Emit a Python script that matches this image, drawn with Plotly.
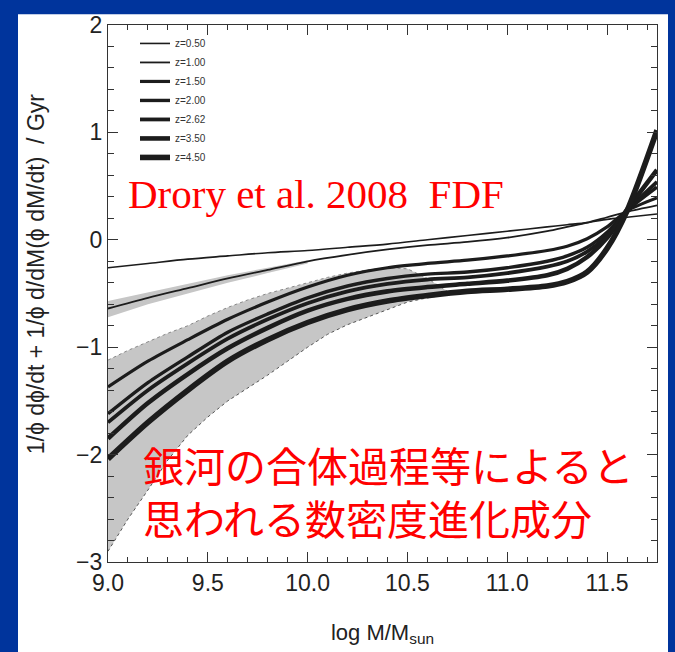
import plotly.graph_objects as go

# ---------------- data ----------------
log_mass = [9.0, 9.2, 9.4, 9.6, 9.8, 10.0, 10.2, 10.4, 10.6, 10.8, 11.0, 11.2, 11.3, 11.4, 11.5, 11.6, 11.75]

z_labels = ["z=0.50", "z=1.00", "z=1.50", "z=2.00", "z=2.62", "z=3.50", "z=4.50"]

fdf_z050 = [-0.26, -0.22, -0.18, -0.15, -0.12, -0.10, -0.07, -0.04, 0.00, 0.04, 0.08, 0.12, 0.14, 0.16, 0.19, 0.21, 0.24]
fdf_z100 = [-0.64, -0.54, -0.45, -0.36, -0.28, -0.20, -0.14, -0.09, -0.05, -0.02, 0.02, 0.08, 0.12, 0.16, 0.21, 0.26, 0.32]
fdf_z150 = [-1.37, -1.13, -0.93, -0.74, -0.58, -0.44, -0.33, -0.26, -0.22, -0.19, -0.15, -0.10, -0.06, 0.01, 0.12, 0.27, 0.39]
fdf_z200 = [-1.62, -1.33, -1.09, -0.86, -0.69, -0.54, -0.43, -0.36, -0.32, -0.30, -0.26, -0.20, -0.15, -0.07, 0.07, 0.27, 0.49]
fdf_z262 = [-1.70, -1.40, -1.15, -0.92, -0.74, -0.59, -0.48, -0.41, -0.37, -0.35, -0.31, -0.25, -0.20, -0.11, 0.04, 0.27, 0.54]
fdf_z350 = [-1.85, -1.52, -1.25, -1.01, -0.82, -0.66, -0.55, -0.48, -0.44, -0.41, -0.38, -0.33, -0.27, -0.16, 0.02, 0.28, 0.65]
fdf_z450 = [-2.04, -1.70, -1.40, -1.13, -0.93, -0.77, -0.65, -0.57, -0.52, -0.48, -0.46, -0.43, -0.39, -0.30, -0.08, 0.27, 1.02]

series = [fdf_z050, fdf_z100, fdf_z150, fdf_z200, fdf_z262, fdf_z350, fdf_z450]

# uncertainty band of the high-z curves
band_x = [9.0, 9.1, 9.2, 9.3, 9.4, 9.5, 9.6, 9.7, 9.8, 9.9, 10.0, 10.1, 10.2, 10.3, 10.4, 10.5, 10.6, 10.7]
band_upper = [-1.12, -1.03, -0.95, -0.87, -0.80, -0.71, -0.63, -0.56, -0.50, -0.45, -0.40, -0.35, -0.31, -0.28, -0.26, -0.27, -0.36, -0.48]
band_lower = [-2.90, -2.60, -2.33, -2.05, -1.82, -1.65, -1.50, -1.38, -1.26, -1.13, -1.00, -0.88, -0.79, -0.72, -0.65, -0.58, -0.54, -0.51]

# narrow band around the z=1.00 curve
band1_x = [9.0, 9.2, 9.4, 9.6, 9.8, 10.0]
band1_upper = [-0.57, -0.49, -0.41, -0.33, -0.26, -0.19]
band1_lower = [-0.72, -0.60, -0.50, -0.40, -0.31, -0.22]

# ---------------- styles ----------------
line_widths = [1.6, 1.8, 3.2, 3.4, 3.8, 4.6, 5.6]
INK = "#1c1c1c"
BAND = "#c6c6c6"
BLUE = "#00349c"

W, H = 675, 652
ML, MR, MT, MB = 108, 18, 18, 89
PW, PH = W - ML - MR, H - MT - MB

def px_x(p):
    return (p - ML) / PW

def px_y(p):
    return (H - MB - p) / PH

fig = go.Figure()

# big gray band
fig.add_trace(go.Scatter(x=band_x, y=band_upper, mode="lines", line=dict(width=0, color=BAND),
                         showlegend=False, hoverinfo="skip"))
fig.add_trace(go.Scatter(x=band_x, y=band_lower, mode="lines", line=dict(width=0, color=BAND),
                         fill="tonexty", fillcolor=BAND, showlegend=False, hoverinfo="skip"))
fig.add_trace(go.Scatter(x=band_x, y=band_lower, mode="lines",
                         line=dict(width=1, color="#555555", dash="dot"),
                         showlegend=False, hoverinfo="skip"))
fig.add_trace(go.Scatter(x=band_x, y=band_upper, mode="lines",
                         line=dict(width=1, color="#888888", dash="dot"),
                         showlegend=False, hoverinfo="skip"))
# small band around z=1.00
fig.add_trace(go.Scatter(x=band1_x, y=band1_upper, mode="lines", line=dict(width=0, color=BAND),
                         showlegend=False, hoverinfo="skip"))
fig.add_trace(go.Scatter(x=band1_x, y=band1_lower, mode="lines", line=dict(width=0, color=BAND),
                         fill="tonexty", fillcolor=BAND, showlegend=False, hoverinfo="skip"))

# zero reference line
fig.add_hline(y=0, line=dict(color="#bdbdbd", width=1.5, dash="dot"), layer="below")

for lab, ys, lw in zip(z_labels, series, line_widths):
    fig.add_trace(go.Scatter(x=log_mass, y=ys, mode="lines", name=lab,
                             line=dict(color=INK, width=lw, shape="spline", smoothing=0.8)))

# white slide panel behind the chart
fig.add_shape(type="rect", xref="paper", yref="paper",
              x0=px_x(18), x1=px_x(668), y0=px_y(660), y1=px_y(7),
              fillcolor="white", line=dict(width=0), layer="below")

FONT = "Liberation Sans, Arial, sans-serif"
axis_common = dict(showline=True, linecolor="#333333", linewidth=1.2, mirror="allticks",
                   ticks="inside", tickcolor="#333333", showgrid=False, zeroline=False,
                   tickfont=dict(family=FONT, size=23, color="#222222"))

fig.update_xaxes(range=[9.0, 11.75], tickmode="linear", tick0=9.0, dtick=0.5, tickformat=".1f",
                 ticklen=10,
                 minor=dict(tickmode="linear", tick0=9.0, dtick=0.1, ticklen=5, ticks="inside",
                            tickcolor="#333333", showgrid=False),
                 title=dict(text="log M/M<sub>sun</sub>", standoff=29,
                            font=dict(family=FONT, size=22, color="#222222")),
                 **axis_common)
fig.update_yaxes(range=[-3, 2], tickmode="linear", tick0=-3, dtick=1, ticklen=10,
                 minor=dict(tickmode="linear", tick0=-3, dtick=0.2, ticklen=6, ticks="inside",
                            tickcolor="#333333", showgrid=False),
                 **axis_common)

annotations = [
    dict(text="1/ϕ dϕ/dt + 1/ϕ d/dM(ϕ dM/dt)  / Gyr", textangle=-90,
         xref="paper", yref="paper", x=px_x(36), y=px_y(271), showarrow=False,
         xanchor="center", yanchor="middle",
         font=dict(family=FONT, size=23, color="#222222")),
    dict(text="Drory et al. 2008  FDF", xref="paper", yref="paper",
         x=px_x(126), y=px_y(190), showarrow=False, xanchor="left", yanchor="middle",
         font=dict(family="Liberation Serif, Times New Roman, serif", size=41, color="#ff0000")),
    dict(text="銀河の合体過程等によると<br>思われる数密度進化成分", xref="paper", yref="paper",
         x=px_x(141), y=px_y(490), showarrow=False, xanchor="left", yanchor="middle", align="left",
         font=dict(family="Noto Sans CJK JP, sans-serif", size=41, color="#ff0000")),
]

fig.update_layout(
    width=W, height=H,
    margin=dict(l=ML, r=MR, t=MT, b=MB),
    paper_bgcolor=BLUE, plot_bgcolor="rgba(0,0,0,0)",
    showlegend=True,
    legend=dict(x=px_x(135), y=px_y(22), xanchor="left", yanchor="top", traceorder="normal",
                bgcolor="rgba(0,0,0,0)", borderwidth=0, itemwidth=30, tracegroupgap=0,
                font=dict(family=FONT, size=10, color="#333333")),
    annotations=annotations,
)

fig.write_html("out.html", config={"displayModeBar": False},
               post_script="document.body.style.margin='0px';document.body.style.background='#00349c';")
